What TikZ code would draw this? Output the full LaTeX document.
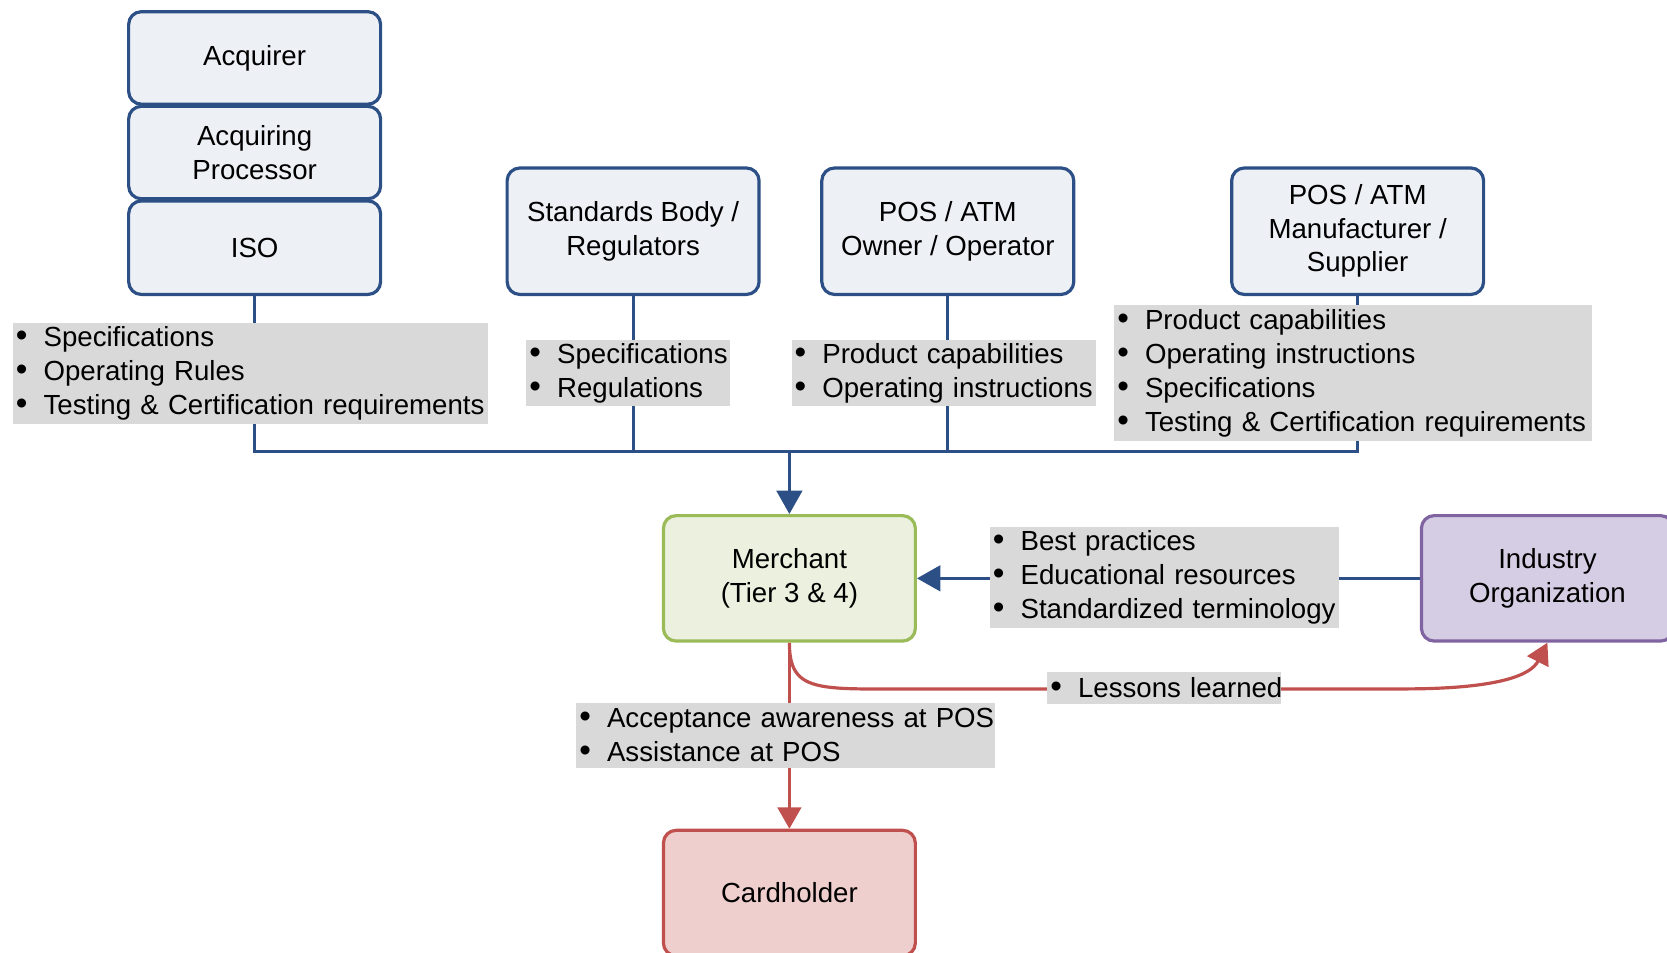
\documentclass[tikz,border=0pt]{standalone}
\usepackage{fontspec}
\setmainfont{Liberation Sans}
\usetikzlibrary{arrows.meta}
\pgfdeclarelayer{bg}
\pgfsetlayers{bg,main}
\definecolor{partyline}{HTML}{2C4F86}
\definecolor{partyfill}{HTML}{EDF1F6}
\definecolor{notegray}{HTML}{D9D9D9}
\definecolor{merchline}{HTML}{9BBB59}
\definecolor{merchfill}{HTML}{EBF1DE}
\definecolor{indline}{HTML}{8064A2}
\definecolor{indfill}{HTML}{D5CDE3}
\definecolor{cardline}{HTML}{C0504D}
\definecolor{cardfill}{HTML}{EFCFCE}
% one bulleted line that never wraps
\newcommand\itm[1]{\mbox{\makebox[23pt][l]{\hspace{-3pt}\scalebox{1.2}{\textbullet}}#1}}
\begin{document}
\begin{tikzpicture}[x=1pt,y=-1pt,
  party/.style={draw=partyline, fill=partyfill, line width=3pt, rounded corners=12pt,
    minimum width=237pt, inner sep=0pt, align=center,
    font=\fontsize{26}{31.5}\selectfont},
  note/.style={fill=notegray, inner xsep=6pt, inner ysep=0pt, align=left,
    font=\fontsize{26}{32}\selectfont},
  blueline/.style={draw=partyline, line width=3pt},
  redline/.style={draw=cardline, line width=3pt},
  tipblue/.style={-{Triangle[width=24pt,length=22pt]}},
  tipred/.style={-{Triangle[width=22pt,length=20pt]}}]
\useasboundingbox (0,0) rectangle (1568,896);
\clip (0,0) rectangle (1568,896);

% organisations issuing rules
\node[party, minimum height=87pt] (acq) at (239.5,54.5) {Acquirer};
\node[party, minimum height=87pt] (proc) at (239.5,143.5) {Acquiring\\Processor};
\node[party, minimum height=88pt] (iso) at (239.5,233) {ISO};
\node[party, minimum height=119pt] (std) at (595.5,217.5) {Standards Body /\\Regulators};
\node[party, minimum height=119pt] (own) at (891.5,217.5) {POS / ATM\\Owner / Operator};
\node[party, minimum height=119pt] (mfr) at (1277,217.5) {POS / ATM\\Manufacturer /\\Supplier};

% merchant and its partners
\node[party, draw=merchline, fill=merchfill, minimum height=118pt] (merch) at (742.5,544) {Merchant\\(Tier 3 \& 4)};
\node[party, draw=indline, fill=indfill, minimum height=118pt] (ind) at (1455.5,544) {Industry\\Organization};
\node[party, draw=cardline, fill=cardfill, minimum height=118pt] (card) at (742.5,840) {Cardholder};

\coordinate (bus) at (742.5,425);

% information notes
\node[note, text width=435pt, minimum height=95pt] (g1) at (235.5,351.5)
  {\itm{Specifications}\\\itm{Operating Rules}\\\itm{Testing \& Certification requirements}};
\node[note, text width=180pt, minimum height=62pt] (g2) at (591,351)
  {\itm{Specifications}\\\itm{Regulations}};
\node[note, text width=274pt, minimum height=62pt] (g3) at (887.5,351)
  {\itm{Product capabilities}\\\itm{Operating instructions}};
\node[note, text width=437pt, minimum height=128pt] (g4) at (1272.5,351)
  {\itm{Product capabilities}\\\itm{Operating instructions}\\\itm{Specifications}\\\itm{Testing \& Certification requirements}};
\node[note, text width=316pt, minimum height=95pt] (g5) at (1095,543.5)
  {\itm{Best practices}\\\itm{Educational resources}\\\itm{Standardized terminology}};
\node[note, text width=382pt, minimum height=61pt] (g6) at (739,691.5)
  {\itm{Acceptance awareness at POS}\\\itm{Assistance at POS}};
\node[note, text width=208pt, minimum height=30pt] (g7) at (1095,647)
  {\itm{Lessons learned}};

% connectors, behind the boxes and notes
\begin{pgfonlayer}{bg}
  \draw[blueline] (iso.south) -- (iso.south |- bus) -- (mfr.south |- bus) -- (mfr.south);
  \draw[blueline] (std.south) -- (std.south |- bus);
  \draw[blueline] (own.south) -- (own.south |- bus);
  \draw[blueline, tipblue] (bus) -- (merch.north);
  \draw[blueline, tipblue] (ind.west) -- (merch.east);
  \draw[redline, tipred] (merch.south) -- (card.north);
  \draw[redline, tipred] (merch.south) .. controls (742.5,652) and (770,648) .. (860,648)
    -- (1320,648) .. controls (1410,648) and (1440,635) .. (ind.south);
\end{pgfonlayer}
\end{tikzpicture}
\end{document}
